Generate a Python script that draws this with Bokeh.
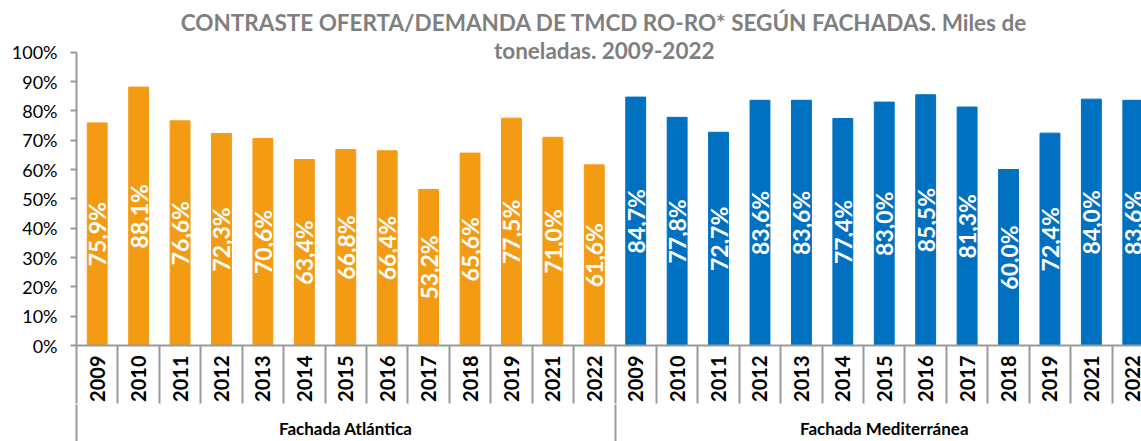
import math
import numpy as np
from bokeh.plotting import figure
from bokeh.models import (ColumnDataSource, Range1d, LinearAxis, FixedTicker, Label)
from bokeh.core.properties import value
from bokeh.embed import file_html
from bokeh.resources import INLINE

# ---------------- data ----------------
groups = ["Fachada Atlántica", "Fachada Mediterránea"]
years = ["2009", "2010", "2011", "2012", "2013", "2014", "2015",
         "2016", "2017", "2018", "2019", "2021", "2022"]
atlantica = [75.9, 88.1, 76.6, 72.3, 70.6, 63.4, 66.8, 66.4, 53.2, 65.6, 77.5, 71.0, 61.6]
mediterranea = [84.7, 77.8, 72.7, 83.6, 83.6, 77.4, 83.0, 85.5, 81.3, 60.0, 72.4, 84.0, 83.6]
group_colors = ["#F39C13", "#0070C0"]
y_ticks = [0.0, 0.1, 0.2, 0.3, 0.4, 0.5, 0.6, 0.7, 0.8, 0.9, 1.0]
y_tick_labels = ["0%", "10%", "20%", "30%", "40%", "50%", "60%", "70%", "80%", "90%", "100%"]
title_lines = ["CONTRASTE OFERTA/DEMANDA DE TMCD RO-RO* SEGÚN FACHADAS. Miles de",
               "toneladas. 2009-2022"]

FONT = "Lato"
GRAY = "#9a9a9a"

# ---------------- build table ----------------
series = [atlantica, mediterranea]
xs, tops, cols, labs, yrs = [], [], [], [], []
i = 0
for g, vals in enumerate(series):
    for y, v in zip(years, vals):
        xs.append(i + 0.5)
        tops.append(v / 100.0)
        cols.append(group_colors[g])
        labs.append(f"{v:.1f}".replace(".", ",") + "%")
        yrs.append(y)
        i += 1
n = len(xs)
src = ColumnDataSource(dict(x=xs, top=tops, color=cols, label=labs,
                            label_y=[t / 2 for t in tops]))

group_sizes = [len(s) for s in series]
group_bounds = [0]
for s in group_sizes:
    group_bounds.append(group_bounds[-1] + s)
group_centers = [(group_bounds[k] + group_bounds[k + 1]) / 2 for k in range(len(groups))]

# ---------------- figure ----------------
p = figure(width=1141, height=441,
           x_range=Range1d(0, 25.71), y_range=Range1d(0, 1.1763),
           output_backend="svg", toolbar_location=None,
           x_axis_type=None, y_axis_type=None,
           min_border_left=76, min_border_right=0, min_border_top=0,
           min_border_bottom=95)
p.outline_line_color = None
p.background_fill_color = "white"
p.border_fill_color = "white"

p.vbar(x="x", top="top", width=0.48, color="color", source=src)
p.text(x="x", y="label_y", text="label", angle=math.pi / 2,
       text_align="center", text_baseline="middle", text_color="white",
       text_font=value(FONT), text_font_style="bold", text_font_size="23px",
       source=src)

# y axis
yaxis = LinearAxis(ticker=FixedTicker(ticks=y_ticks, minor_ticks=[]),
                   bounds=(0, 1))
yaxis.major_label_overrides = {t: l for t, l in zip(y_ticks, y_tick_labels)}
yaxis.major_tick_out = 6
yaxis.major_tick_in = 0
yaxis.minor_tick_out = 0
yaxis.minor_tick_in = 0
yaxis.major_tick_line_color = GRAY
yaxis.major_tick_line_width = 2
yaxis.axis_line_color = GRAY
yaxis.axis_line_width = 2
yaxis.major_label_standoff = 13
yaxis.major_label_text_font = FONT
yaxis.major_label_text_font_size = "18px"
yaxis.major_label_text_color = "#000000"
p.add_layout(yaxis, "left")

# x axis: years
xaxis = LinearAxis(ticker=FixedTicker(ticks=xs, minor_ticks=list(range(0, n + 1))))
xaxis.major_label_overrides = {x: y for x, y in zip(xs, yrs)}
xaxis.major_label_orientation = math.pi / 2
xaxis.major_tick_out = 0
xaxis.major_tick_in = 0
xaxis.minor_tick_in = 0
xaxis.minor_tick_out = 58
xaxis.minor_tick_line_color = GRAY
xaxis.minor_tick_line_width = 2
xaxis.axis_line_color = GRAY
xaxis.axis_line_width = 2
xaxis.major_label_standoff = 10 - 58
xaxis.major_label_text_font = FONT
xaxis.major_label_text_font_style = "bold"
xaxis.major_label_text_font_size = "20px"
xaxis.major_label_text_color = "#000000"
p.add_layout(xaxis, "below")

# x axis: groups
gaxis = LinearAxis(ticker=FixedTicker(ticks=group_centers, minor_ticks=group_bounds))
gaxis.major_label_overrides = {c: g for c, g in zip(group_centers, groups)}
gaxis.axis_line_color = None
gaxis.major_tick_out = 0
gaxis.major_tick_in = 0
gaxis.minor_tick_in = 0
gaxis.minor_tick_out = 45
gaxis.minor_tick_line_color = GRAY
gaxis.minor_tick_line_width = 2
gaxis.major_label_standoff = 13 - 45
gaxis.major_label_text_font = FONT
gaxis.major_label_text_font_style = "bold"
gaxis.major_label_text_font_size = "17px"
gaxis.major_label_text_color = "#000000"
p.add_layout(gaxis, "below")

p.xgrid.visible = False
p.ygrid.visible = False

# title
for line, yy in zip(title_lines, [1.1014, 1.006]):
    p.add_layout(Label(x=12.74, y=yy, text=line, text_align="center",
                       text_baseline="middle", text_font=FONT,
                       text_font_style="bold", text_font_size="22.5px",
                       text_color="#7f7f7f"))

open("out.html", "w").write(file_html(p, INLINE))
